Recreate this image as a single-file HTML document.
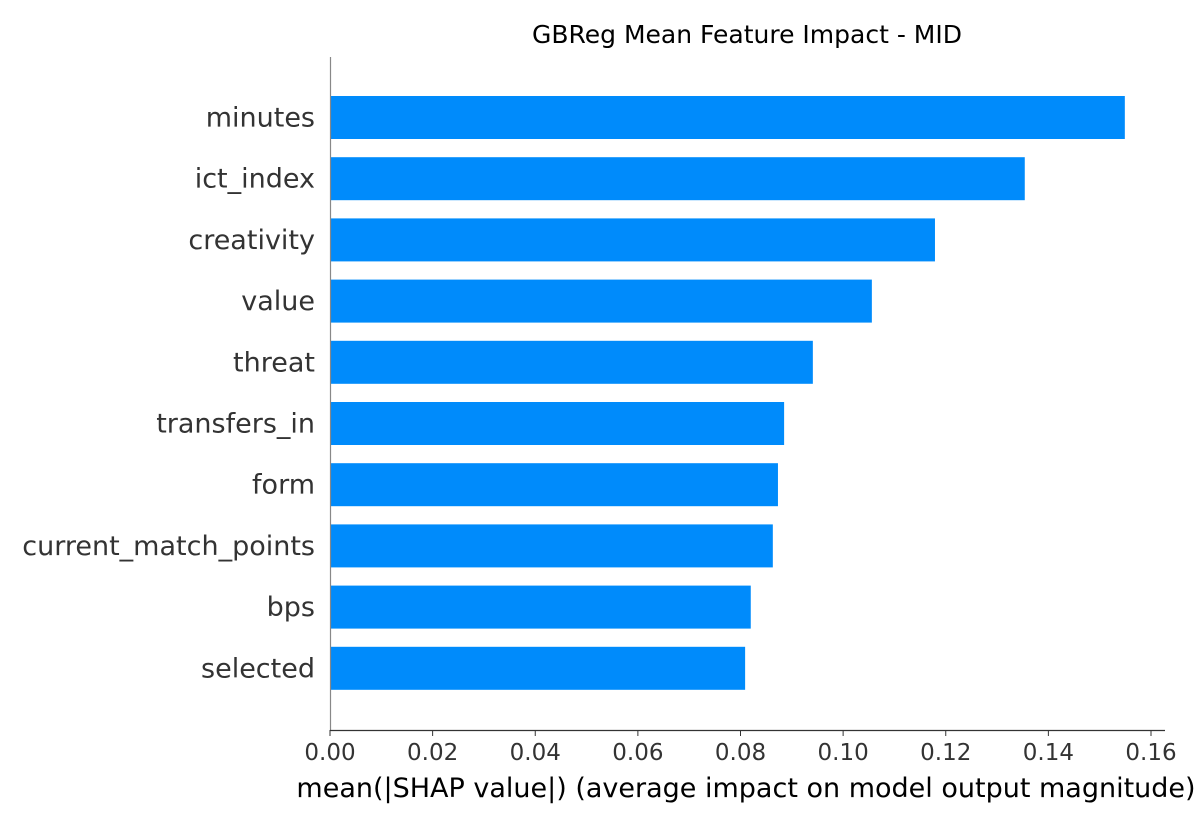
<!DOCTYPE html>
<html><head><meta charset="utf-8"><style>
body{margin:0;background:#fff;}
svg text{font-family:"DejaVu Sans","Liberation Sans",sans-serif;}
</style></head><body>
<svg id="chart" width="1200" height="825" xmlns="http://www.w3.org/2000/svg">
<text x="747" y="43" text-anchor="middle" font-size="25" fill="#000">GBReg Mean Feature Impact - MID</text>
<g id="bars"></g>
<g id="yl"></g>
<g id="xt"></g>
<line x1="330.5" y1="57" x2="330.5" y2="730" stroke="#888" stroke-width="1.2"/>
<line x1="330" y1="730.5" x2="1165" y2="730.5" stroke="#333" stroke-width="1.2"/>
<text x="746" y="797" text-anchor="middle" font-size="27" fill="#000">mean(|SHAP value|) (average impact on model output magnitude)</text>
</svg>
<script>
const features=["minutes","ict_index","creativity","value","threat","transfers_in","form","current_match_points","bps","selected"];
const values=[0.1549,0.1354,0.1179,0.1056,0.0941,0.0885,0.0873,0.0863,0.0820,0.0809];
const ticks=[0,0.02,0.04,0.06,0.08,0.10,0.12,0.14,0.16];
const tickLabels=["0.00","0.02","0.04","0.06","0.08","0.10","0.12","0.14","0.16"];
const NS="http://www.w3.org/2000/svg";
const x=v=>330+v*(1151-330)/0.16;
const y=i=>117.5+i*61.2;
const bars=document.getElementById('bars'),yl=document.getElementById('yl'),xt=document.getElementById('xt');
features.forEach((f,i)=>{
 const r=document.createElementNS(NS,'rect');
 
 
 r.setAttribute('x',x(0));r.setAttribute('y',y(i)-21.5);r.setAttribute('width',x(values[i])-x(0));r.setAttribute('height',43);r.setAttribute('fill','#008bfb');
 bars.appendChild(r);
 const t=document.createElementNS(NS,'text');
 
 
 t.setAttribute('x',315);t.setAttribute('y',y(i)+9);t.setAttribute('text-anchor','end');t.setAttribute('font-size','27');t.setAttribute('fill','#333');
 t.textContent=f;yl.appendChild(t);
});
ticks.forEach((v,i)=>{
 const l=document.createElementNS(NS,'line');
 
 
 l.setAttribute('x1',x(v));l.setAttribute('x2',x(v));l.setAttribute('y1',730);l.setAttribute('y2',736);l.setAttribute('stroke','#333');
 xt.appendChild(l);
 const t=document.createElementNS(NS,'text');
 
 
 t.setAttribute('x',x(v));t.setAttribute('y',760);t.setAttribute('text-anchor','middle');t.setAttribute('font-size','23');t.setAttribute('fill','#333');
 t.textContent=tickLabels[i];xt.appendChild(t);
});
</script>
</body></html>
